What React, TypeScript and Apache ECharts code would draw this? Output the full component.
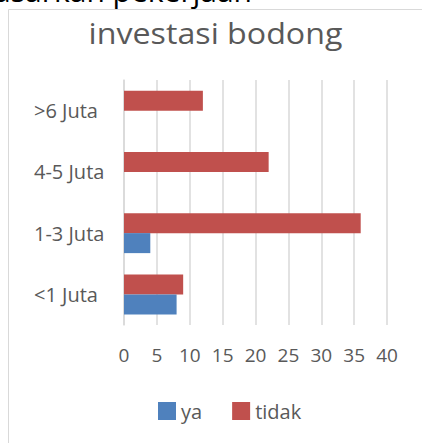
import React, { useEffect, useRef } from "react";
import * as echarts from "echarts";

const categories = ["<1 Juta", "1-3 Juta", "4-5 Juta", ">6 Juta"];
const yaValues = [8, 4, 0, 0];
const tidakValues = [9, 36, 22, 12];
const legendNames = ["ya", "tidak"];
const xTicks = { min: 0, max: 40, interval: 5 };

const FONT = "Open Sans";
const GRAY = "#595959";

export default function App() {
  const ref = useRef<HTMLDivElement>(null);
  useEffect(() => {
    if (!ref.current) return;
    const chart = echarts.init(ref.current, null, { renderer: "svg" });
    chart.setOption({
      animation: false,
      backgroundColor: "#ffffff",
      graphic: [
        {
          type: "rect",
          shape: { x: 8.5, y: 9.5, width: 600, height: 600 },
          style: { fill: "none", stroke: "#d9d9d9", lineWidth: 1 },
          silent: true,
        },
        {
          type: "text",
          x: 252,
          y: -10,
          style: {
            text: "berdasarkan pekerjaan",
            fontFamily: FONT,
            fontSize: 30,
            fill: "#000000",
            textAlign: "right",
            textVerticalAlign: "middle",
          },
          silent: true,
        },
        {
          type: "text",
          x: 215.5,
          y: 33,
          scaleX: 1.11,
          style: {
            text: "investasi bodong",
            fontFamily: FONT,
            fontSize: 29,
            fill: GRAY,
            textAlign: "center",
            textVerticalAlign: "middle",
          },
          silent: true,
        },
      ],
      legend: {
        data: legendNames,
        left: 153,
        top: 396,
        itemWidth: 18,
        itemHeight: 18,
        itemGap: 30,
        icon: "rect",
        textStyle: { fontFamily: FONT, fontSize: 20, color: GRAY },
      },
      grid: { left: 124, right: 35, top: 80, bottom: 118, containLabel: false },
      xAxis: {
        type: "value",
        min: xTicks.min,
        max: xTicks.max,
        interval: xTicks.interval,
        axisLine: { show: false },
        axisTick: { show: false },
        splitLine: { lineStyle: { color: "#d9d9d9", width: 1.5 } },
        axisLabel: { fontFamily: FONT, fontSize: 19, color: GRAY, margin: 20 },
      },
      yAxis: {
        type: "category",
        data: categories,
        axisLine: { show: true, lineStyle: { color: "#d9d9d9", width: 1.5 } },
        axisTick: { show: false },
        axisLabel: {
          fontFamily: FONT,
          fontSize: 20,
          color: GRAY,
          align: "left",
          margin: 90,
        },
      },
      series: [
        {
          name: "tidak",
          type: "bar",
          data: tidakValues,
          barWidth: 20,
          barGap: "0%",
          itemStyle: { color: "#C0504D" },
        },
        {
          name: "ya",
          type: "bar",
          data: yaValues,
          barWidth: 20,
          barGap: "0%",
          itemStyle: { color: "#4F81BD" },
        },
      ],
    });
    return () => chart.dispose();
  }, []);
  return (
    <div
      ref={ref}
      style={{ position: "fixed", left: 0, top: 0, width: 422, height: 443 }}
    />
  );
}
